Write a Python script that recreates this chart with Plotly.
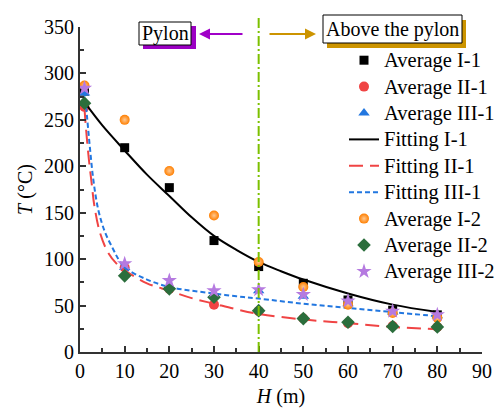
import plotly.graph_objects as go

# ---------------- data ----------------
H = [1, 10, 20, 30, 40, 50, 60, 70, 80]
avg_I_1 = [281, 220, 177, 120, 92, 74, 56, 45, 40]
avg_II_1 = [264, 91, 68, 51, 44, 36, 31, 28, 27]
avg_III_1 = [279, 91, 71, 62, 66, 60, 52, 43, 39]
avg_I_2 = [287, 250, 195, 147, 97, 70, 51, 42, 37]
avg_II_2 = [268, 82, 68, 59, 44.5, 36, 32, 27.5, 27]
avg_III_2 = [284, 95, 77, 66, 67, 62, 55, 44, 40]

fit_I_x = [1, 5, 10, 15, 20, 25, 30, 35, 40, 45, 50, 60, 70, 80]
fit_I_y = [269, 244, 217, 191, 168, 145, 125, 110, 97, 87, 78, 63, 51, 43]
fit_II_x = [1, 1.5, 2, 2.6, 3.2, 4.5, 6.3, 8.6, 10, 15, 20, 25, 30, 35, 40, 50, 60, 70, 80]
fit_II_y = [262, 232, 207, 182, 158, 128, 107, 93, 88, 74, 66, 58, 52, 46, 41, 35, 31, 27, 24.5]
fit_III_x = [1, 1.5, 2.2, 3.0, 4.1, 5.6, 7.4, 8.6, 10, 15, 20, 25, 30, 35, 40, 50, 60, 70, 80]
fit_III_y = [281, 257, 221, 185, 153, 129, 111, 100, 91, 78, 70, 66, 63, 60, 57.5, 52, 47.5, 43, 38.5]

divider_x = 40

FONT = "Liberation Serif, Times New Roman, serif"


def nm(s):
    return '<span style="font-size:20.5px">' + s + '</span>'


fig = go.Figure()

fig.add_trace(go.Scatter(x=H, y=avg_I_1, mode="markers", name=nm("Average I-1"),
                         marker=dict(symbol="square", size=9, color="#000000")))
fig.add_trace(go.Scatter(x=H, y=avg_II_1, mode="markers", name=nm("Average II-1"),
                         marker=dict(symbol="circle", size=10, color="#f04444")))
fig.add_trace(go.Scatter(x=H, y=avg_III_1, mode="markers", name=nm("Average III-1"),
                         marker=dict(symbol="triangle-up", size=10, color="#2277e0")))
fig.add_trace(go.Scatter(x=fit_I_x, y=fit_I_y, mode="lines", name=nm("Fitting I-1"),
                         line=dict(color="#000000", width=2, shape="spline")))
fig.add_trace(go.Scatter(x=fit_II_x, y=fit_II_y, mode="lines", name=nm("Fitting II-1"),
                         line=dict(color="#f04444", width=2, dash="14px,7px", shape="spline")))
fig.add_trace(go.Scatter(x=fit_III_x, y=fit_III_y, mode="lines", name=nm("Fitting III-1"),
                         line=dict(color="#2277e0", width=2, dash="5px,3px", shape="spline")))
fig.add_trace(go.Scatter(x=H, y=avg_I_2, mode="markers", name=nm("Average I-2"),
                         marker=dict(symbol="circle", size=10, color="#ff7f00",
                                     gradient=dict(type="radial", color="#ffc890"))))
fig.add_trace(go.Scatter(x=H, y=avg_II_2, mode="markers", name=nm("Average II-2"),
                         marker=dict(symbol="diamond", size=10.5, color="#2b6e3c")))
fig.add_trace(go.Scatter(x=H, y=avg_III_2, mode="markers", name=nm("Average III-2"),
                         marker=dict(symbol="star", size=11.5, color="#b57ae0")))

# vertical divider
fig.add_shape(type="line", xref="x", yref="paper", x0=divider_x, x1=divider_x, y0=0, y1=1.03,
              line=dict(color="#7cc000", width=2, dash="10px,3px,2px,3px"))


def py2paper(py):
    return (352 - py) / 325.0


def px2paper(px):
    return (px - 80) / 402.0


# Pylon box + shadow
fig.add_shape(type="rect", xref="paper", yref="paper",
              x0=px2paper(143), x1=px2paper(196), y0=py2paper(49), y1=py2paper(26),
              fillcolor="#9c00c4", line=dict(width=0), layer="above")
fig.add_shape(type="rect", xref="paper", yref="paper",
              x0=px2paper(139), x1=px2paper(191), y0=py2paper(45), y1=py2paper(22),
              fillcolor="white", line=dict(color="black", width=1), layer="above")
fig.add_annotation(xref="paper", yref="paper", x=px2paper(165), y=py2paper(33.5),
                   xanchor="center", yanchor="middle",
                   text="Pylon", showarrow=False, font=dict(family=FONT, size=20, color="black"))

# Above the pylon box + shadow
fig.add_shape(type="rect", xref="paper", yref="paper",
              x0=px2paper(327), x1=px2paper(466), y0=py2paper(48), y1=py2paper(20),
              fillcolor="#cc9400", line=dict(width=0), layer="above")
fig.add_shape(type="rect", xref="paper", yref="paper",
              x0=px2paper(323), x1=px2paper(462), y0=py2paper(43), y1=py2paper(15),
              fillcolor="white", line=dict(color="black", width=1), layer="above")
fig.add_annotation(xref="paper", yref="paper", x=px2paper(392.5), y=py2paper(29.5),
                   xanchor="center", yanchor="middle",
                   text="Above the pylon", showarrow=False,
                   font=dict(family=FONT, size=20, color="black"))

# arrows
fig.add_annotation(xref="paper", yref="paper", x=px2paper(199), y=py2paper(34),
                   ax=45, ay=0, text="", showarrow=True, arrowhead=2, arrowsize=1.1,
                   arrowwidth=2, arrowcolor="#a000c8")
fig.add_annotation(xref="paper", yref="paper", x=px2paper(316), y=py2paper(34),
                   ax=-48, ay=0, text="", showarrow=True, arrowhead=2, arrowsize=1.1,
                   arrowwidth=2, arrowcolor="#cc9400")

axis_common = dict(showline=True, linecolor="#333333", linewidth=2, ticks="inside",
                   ticklen=6, tickwidth=1.5, tickcolor="#333333", showgrid=False,
                   zeroline=False, tickfont=dict(family=FONT, size=20, color="black"),
                   mirror=False)

fig.update_xaxes(range=[0, 90], dtick=10, tick0=0,
                 minor=dict(ticks="inside", ticklen=4, dtick=5, tickcolor="#333333", tickwidth=1.5),
                 title=dict(text="<i>H</i> (m)", font=dict(family=FONT, size=20, color="black"),
                            standoff=8),
                 **axis_common)
fig.update_yaxes(range=[0, 350], dtick=50, tick0=0,
                 minor=dict(ticks="inside", ticklen=4, dtick=25, tickcolor="#333333", tickwidth=1.5),
                 title=dict(text="<i>T</i> (°C)", font=dict(family=FONT, size=20, color="black"),
                            standoff=6),
                 **axis_common)

fig.update_layout(
    width=504, height=415,
    margin=dict(l=80, r=22, t=27, b=63, autoexpand=False),
    paper_bgcolor="white", plot_bgcolor="white",
    font=dict(family=FONT, size=20, color="black"),
    showlegend=True,
    legend=dict(x=px2paper(344), y=py2paper(42), xanchor="left", yanchor="top",
                bgcolor="rgba(0,0,0,0)", font=dict(family=FONT, size=18, color="black"),
                traceorder="normal", tracegroupgap=0),
)

fig.write_html("out.html")
